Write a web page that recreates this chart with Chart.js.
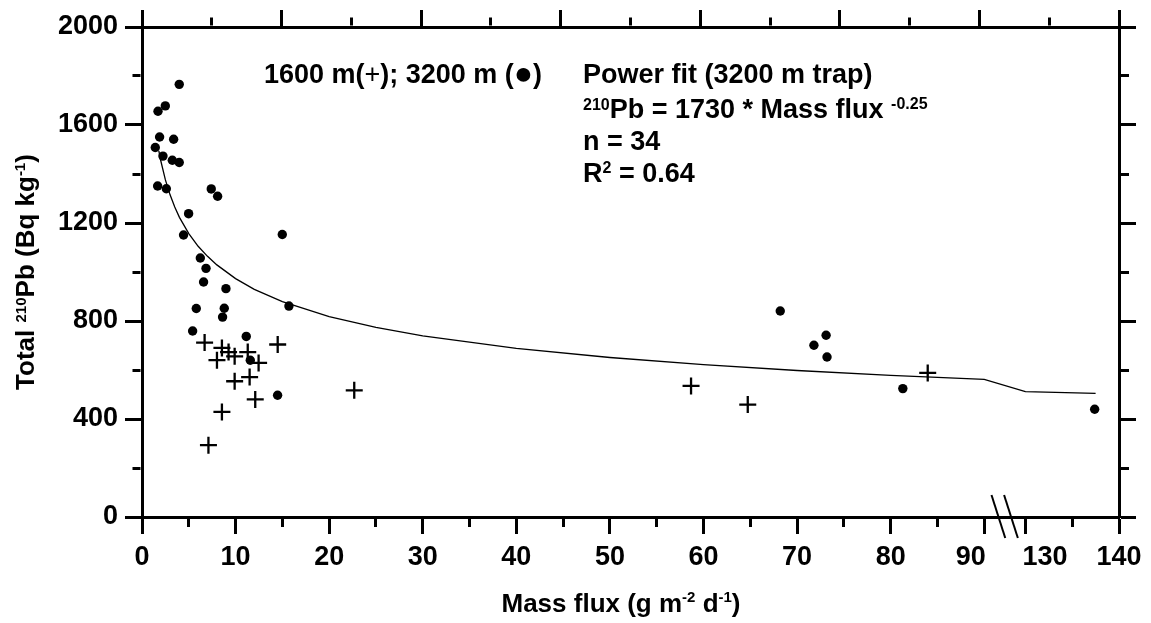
<!DOCTYPE html>
<html>
<head>
<meta charset="utf-8">
<script src="https://cdn.jsdelivr.net/npm/chart.js@4.4.1/dist/chart.umd.min.js"></script>
<style>
  html, body { margin: 0; padding: 0; background: #fff; }
  #wrap { width: 1151px; height: 623px; position: relative; }
</style>
</head>
<body>
<div id="wrap"><canvas id="chart"></canvas></div>
<script>
// 3200 m trap (filled circles)
const deepFlux = [3.98, 2.49, 1.71, 1.88, 3.38, 1.42, 2.24, 3.24, 3.98, 1.67, 2.6, 7.4, 8.08, 4.98, 4.44, 14.99, 6.23, 6.84, 6.58, 8.97, 15.7, 5.8, 8.79, 8.61, 5.41, 11.14, 11.57, 14.49, 68.2, 71.8, 73.1, 73.2, 81.3, 137.4];
const deepPb = [1766, 1678, 1656, 1551, 1542, 1508, 1473, 1456, 1447, 1351, 1340, 1339, 1309, 1238, 1151, 1153, 1057, 1015, 959, 932, 861, 851, 852, 816, 759, 737, 640, 497, 841, 701, 742, 653, 524, 440];

// 1600 m trap (crosses)
const shallowFlux = [6.69, 8.54, 9.25, 9.9, 8.01, 11.3, 12.46, 14.5, 11.5, 9.9, 12.1, 8.54, 7.1, 22.68, 58.67, 64.73, 83.96];
const shallowPb = [712, 690, 673, 656, 640, 673, 629, 704, 571, 554, 480, 429, 293, 517, 535, 459, 588];

// power fit curve as drawn
const fitFlux = [1.8, 2, 2.5, 3, 3.5, 4, 5, 6, 7, 8, 10, 12, 15, 20, 25, 30, 40, 50, 60, 70, 80, 90, 130, 137.5];
const fitPb = [1494, 1455, 1376, 1315, 1265, 1223, 1157, 1105, 1064, 1029, 973, 929, 879, 818, 774, 739, 688, 651, 622, 598, 578, 562, 512, 505];

const xTickValues = [0, 10, 20, 30, 40, 50, 60, 70, 80, 90, 130, 140];
const xMinorValues = [5, 15, 25, 35, 45, 55, 65, 75, 85, 135];
const yTickValues = [0, 400, 800, 1200, 1600, 2000];

// axis break: values above it are pulled left so 140 sits at the right edge
const BREAK_SHIFT = 35.6;
const X_MAX = 104.4;
const BREAK_POS = 92.2;
// labels next to the break sit off their tick in the original
const labelNudge = { 90: -1.45, 130: 2.1 };

const FONT = "'Liberation Sans', Arial, sans-serif";
const TEXT = 27;
const TICK = 17;
const MINOR = 8;
const AXIS_W = 3;

function toAxis(v) {
  return v > 100 ? v - BREAK_SHIFT : v;
}

function font(size, weight) {
  return `${weight || "bold"} ${size}px ${FONT}`;
}

function points(xs, ys) {
  return xs.map((x, i) => ({ x: toAxis(x), y: ys[i] }));
}

const xTicks = [
  ...xTickValues.map((v) => ({ value: toAxis(v), text: labelNudge[v] ? "" : String(v), kind: "major" })),
  ...xMinorValues.map((v) => ({ value: toAxis(v), text: "", kind: "minor" })),
  ...Object.keys(labelNudge).map((v) => ({ value: toAxis(+v) + labelNudge[v], text: v, kind: "label" })),
].sort((a, b) => a.value - b.value);

// ticks point outward; "outerFirst" means the tick line is drawn from its far end
function tickGrid(isMinor, outerFirst) {
  const inner = TICK - AXIS_W / 2;
  return {
    display: true,
    drawOnChartArea: false,
    drawTicks: true,
    tickLength: TICK,
    tickColor: "#000",
    tickWidth: (c) => (c.tick && c.tick.kind === "label" ? 0 : 3),
    tickBorderDash: (c) => {
      if (!c.tick || !isMinor(c.tick)) return [];
      return outerFirst ? [0, inner - MINOR, MINOR, 100] : [MINOR, 100];
    },
  };
}

const border = { display: true, width: AXIS_W, color: "#000" };

function richText(ctx, parts, x, y, align) {
  let width = 0;
  parts.forEach((p) => {
    ctx.font = font(p.size || TEXT, p.weight);
    width += ctx.measureText(p.text).width;
  });
  let cx = align === "center" ? x - width / 2 : x;
  parts.forEach((p) => {
    ctx.font = font(p.size || TEXT, p.weight);
    ctx.fillText(p.text, cx, y - (p.rise || 0));
    cx += ctx.measureText(p.text).width;
  });
}

const annotations = {
  id: "annotations",
  afterDraw(chart) {
    const ctx = chart.ctx;
    const xScale = chart.scales.x;
    const bottom = chart.chartArea.bottom;
    ctx.save();
    ctx.fillStyle = "#000";
    ctx.textAlign = "left";
    ctx.textBaseline = "alphabetic";

    // axis break marks
    const bx = xScale.getPixelForValue(BREAK_POS);
    ctx.strokeStyle = "#000";
    ctx.lineWidth = 2;
    [-6.3, 6.3].forEach((dx) => {
      ctx.beginPath();
      ctx.moveTo(bx + dx - 22 * 0.32, bottom - 22);
      ctx.lineTo(bx + dx + 21 * 0.32, bottom + 21);
      ctx.stroke();
    });

    richText(ctx, [
      { text: "1600 m(" },
      { text: "+", weight: "normal" },
      { text: "); 3200 m (" },
      { text: "\u25CF", size: 32, rise: -1 },
      { text: ")" },
    ], 403, 83, "center");

    richText(ctx, [{ text: "Power fit (3200 m trap)" }], 583, 83);
    richText(ctx, [
      { text: "210", size: 16, rise: 8 },
      { text: "Pb = 1730 * Mass flux " },
      { text: "-0.25", size: 16, rise: 9 },
    ], 583, 118);
    richText(ctx, [{ text: "n = 34" }], 583, 150);
    richText(ctx, [
      { text: "R" },
      { text: "2", size: 16, rise: 9 },
      { text: " = 0.64" },
    ], 583, 182);

    // axis titles
    richText(ctx, [
      { text: "Mass flux (g m", size: 26 },
      { text: "-2", size: 15, rise: 10 },
      { text: " d", size: 26 },
      { text: "-1", size: 15, rise: 10 },
      { text: ")", size: 26 },
    ], 621, 612, "center");

    ctx.translate(34, 272);
    ctx.rotate(-Math.PI / 2);
    richText(ctx, [
      { text: "Total ", size: 26 },
      { text: "210", size: 15, rise: 8 },
      { text: "Pb (Bq kg", size: 26 },
      { text: "-1", size: 15, rise: 9 },
      { text: ")", size: 26 },
    ], 0, 0, "center");
    ctx.restore();
  },
};

new Chart(document.getElementById("chart"), {
  type: "scatter",
  data: {
    datasets: [
      {
        label: "3200 m",
        data: points(deepFlux, deepPb),
        pointStyle: "circle",
        pointRadius: 4.7,
        backgroundColor: "#000",
        borderColor: "#000",
        borderWidth: 0,
      },
      {
        label: "1600 m",
        data: points(shallowFlux, shallowPb),
        pointStyle: "cross",
        pointRadius: 8.5,
        borderColor: "#000",
        borderWidth: 2.3,
      },
      {
        label: "Power fit",
        data: points(fitFlux, fitPb),
        showLine: true,
        pointRadius: 0,
        borderColor: "#000",
        borderWidth: 1.3,
        fill: false,
        tension: 0,
      },
    ],
  },
  options: {
    responsive: true,
    maintainAspectRatio: false,
    animation: false,
    events: [],
    layout: { padding: 0 },
    plugins: { legend: { display: false }, tooltip: { enabled: false } },
    scales: {
      x: {
        type: "linear",
        position: "bottom",
        min: 0,
        max: X_MAX,
        afterBuildTicks: (s) => {
          s.ticks = xTicks.map((t) => ({ ...t }));
        },
        afterFit: (s) => {
          s.height = 106;
        },
        ticks: {
          autoSkip: false,
          maxRotation: 0,
          minRotation: 0,
          padding: 7,
          color: "#000",
          font: { family: FONT, size: TEXT, weight: "bold" },
          callback: (v, i, ticks) => ticks[i].text,
        },
        grid: tickGrid((t) => t.kind === "minor", false),
        border,
      },
      x2: {
        type: "linear",
        position: "top",
        min: 0,
        max: 14,
        ticks: { display: false, stepSize: 1 },
        afterFit: (s) => {
          s.height = 27;
        },
        grid: tickGrid((t) => t.value % 2 !== 0, true),
        border,
      },
      y: {
        type: "linear",
        position: "left",
        min: 0,
        max: 2000,
        ticks: {
          stepSize: 200,
          padding: 7,
          color: "#000",
          font: { family: FONT, size: TEXT, weight: "bold" },
          callback: (v) => (yTickValues.includes(v) ? String(v) : ""),
        },
        afterFit: (s) => {
          s.width = 142;
        },
        grid: tickGrid((t) => !yTickValues.includes(t.value), true),
        border,
      },
      y2: {
        type: "linear",
        position: "right",
        min: 0,
        max: 2000,
        ticks: { display: false, stepSize: 200 },
        afterFit: (s) => {
          s.width = 32;
        },
        grid: tickGrid((t) => !yTickValues.includes(t.value), false),
        border,
      },
    },
  },
  plugins: [annotations],
});
</script>
</body>
</html>
